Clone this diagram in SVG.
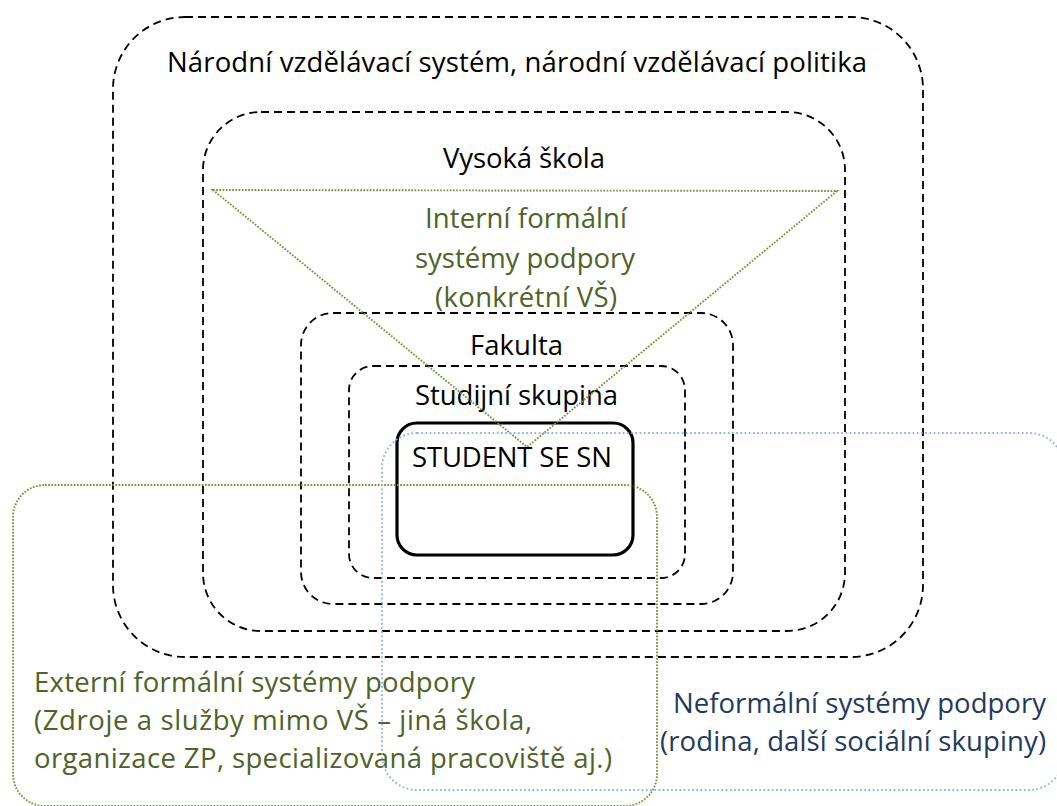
<svg xmlns="http://www.w3.org/2000/svg" width="1057" height="806" viewBox="0 0 1057 806">
<style>
.dash{fill:none;stroke:#000;stroke-width:1.8;stroke-dasharray:8 5}
.gdot{fill:none;stroke:#77933C;stroke-width:1.9;stroke-dasharray:1.7 1.5}
.bdot{fill:none;stroke:#8EB4E3;stroke-width:1.9;stroke-dasharray:1.7 2.5}
text{font-family:"Open Sans","Noto Sans",sans-serif;font-size:27.5px}
.k{fill:#000}
.g{fill:#4F6228}
.b{fill:#1F3A60}
</style>
<rect width="1057" height="806" fill="#fff"/>
<g id="narodni">
<rect class="dash" x="113" y="17" width="810" height="640" rx="72" ry="72"/>
<text class="k" x="167" y="72" textLength="700">Národní vzdělávací systém, národní vzdělávací politika</text>
</g>
<g id="vysoka-skola">
<rect class="dash" x="203" y="112" width="642" height="519" rx="58" ry="58"/>
<text class="k" x="443" y="168" textLength="162">Vysoká škola</text>
</g>
<g id="fakulta">
<rect class="dash" x="301" y="313" width="432" height="291" rx="32" ry="32"/>
<text class="k" x="470" y="355" textLength="93">Fakulta</text>
</g>
<g id="studijni-skupina">
<rect class="dash" x="349" y="366" width="336" height="212" rx="24" ry="24"/>
<text class="k" x="415" y="405" textLength="203">Studijní skupina</text>
</g>
<g id="student">
<rect x="397" y="423" width="236" height="132" rx="20" ry="20" fill="none" stroke="#000" stroke-width="3.2"/>
<text class="k" x="412" y="467" textLength="200">STUDENT SE SN</text>
</g>
<g id="interni">
<polygon class="gdot" points="213,190 837,191 527,447"/>
<text class="g" x="425" y="228" textLength="202">Interní formální</text>
<text class="g" x="415" y="268" textLength="220">systémy podpory</text>
<text class="g" x="435" y="307" textLength="182">(konkrétní VŠ)</text>
</g>
<g id="externi">
<text class="g" x="34" y="692" textLength="441">Externí formální systémy podpory</text>
<text class="g" x="34" y="730" textLength="498">(Zdroje a služby mimo VŠ – jiná škola,</text>
<text class="g" x="34" y="768" textLength="578">organizace ZP, specializovaná pracoviště aj.)</text>
<rect class="gdot" x="13" y="485" width="644" height="321" rx="32" ry="32"/>
</g>
<g id="neformalni">
<text class="b" x="673" y="713" textLength="373">Neformální systémy podpory</text>
<text class="b" x="660" y="751" textLength="386">(rodina, další sociální skupiny)</text>
<rect class="bdot" x="382" y="433" width="682" height="357" rx="35" ry="35"/>
</g>
<g id="connectors"></g>
</svg>
